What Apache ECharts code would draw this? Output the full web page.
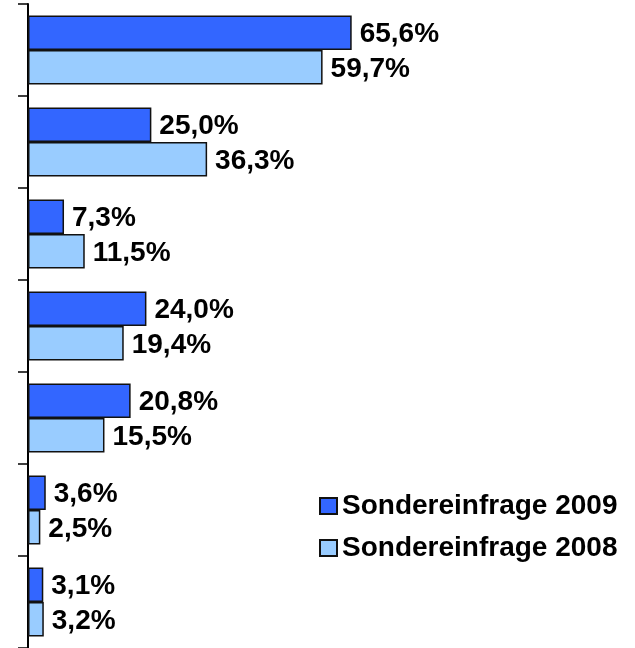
<!DOCTYPE html>
<html lang="de">
<head>
  <meta charset="UTF-8">
  <title>Sondereinfrage</title>
  <script src="https://cdn.jsdelivr.net/npm/echarts@6/dist/echarts.min.js"></script>
  <style>
    * { margin: 0; padding: 0; }
    body { background: #fff; }
    #chart { width: 635px; height: 648px; }
  </style>
</head>
<body>
  <div id="chart"></div>
  <script>
    // Daten
    var categories = ['A', 'B', 'C', 'D', 'E', 'F', 'G'];
    var values2009 = [65.6, 25.0, 7.3, 24.0, 20.8, 3.6, 3.1];
    var values2008 = [59.7, 36.3, 11.5, 19.4, 15.5, 2.5, 3.2];
    var seriesNames = ['Sondereinfrage 2009', 'Sondereinfrage 2008'];

    var chart = echarts.init(document.getElementById('chart'));

    function pct(p) {
      return p.value.toFixed(1).replace('.', ',') + '%';
    }

    var labelStyle = {
      show: true,
      position: 'right',
      distance: 8,
      offset: [0, 2],
      formatter: pct,
      color: '#000',
      fontFamily: 'Liberation Sans, Arial, sans-serif',
      fontWeight: 'bold',
      fontSize: 28
    };

    var option = {
      animation: false,
      grid: { left: 28, right: 5, top: 4, bottom: 0, containLabel: false },
      legend: {
        orient: 'vertical',
        left: 314,
        top: 487,
        icon: 'rect',
        itemWidth: 17,
        itemHeight: 16,
        itemGap: 14,
        textStyle: {
          color: '#000',
          fontFamily: 'Liberation Sans, Arial, sans-serif',
          fontWeight: 'bold',
          fontSize: 28
        },
        data: seriesNames
      },
      xAxis: {
        type: 'value',
        min: 0,
        max: 122,
        show: false
      },
      yAxis: {
        type: 'category',
        inverse: true,
        data: categories,
        axisLine: { show: true, lineStyle: { color: '#000', width: 2 } },
        axisTick: { show: true, length: 10, lineStyle: { color: '#000', width: 1.5 } },
        axisLabel: { show: false }
      },
      series: [
        {
          name: seriesNames[0],
          type: 'bar',
          data: values2009,
          barGap: '0%',
          barCategoryGap: '25%',
          itemStyle: { color: '#3366FF', borderColor: '#111', borderWidth: 1.5 },
          label: labelStyle
        },
        {
          name: seriesNames[1],
          type: 'bar',
          data: values2008,
          itemStyle: { color: '#99CCFF', borderColor: '#111', borderWidth: 1.5 },
          label: labelStyle
        }
      ]
    };

    chart.setOption(option);
  </script>
</body>
</html>
